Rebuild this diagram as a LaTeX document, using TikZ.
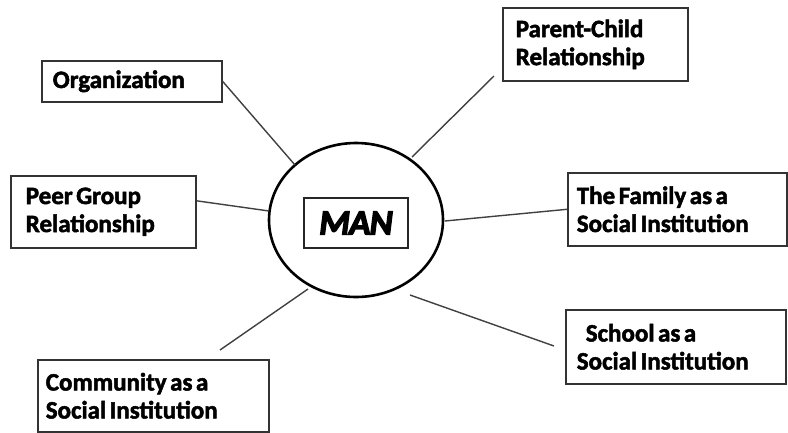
\documentclass[tikz,border=0pt]{standalone}
\usepackage{fontspec}
\setmainfont{Carlito}
\newfontfamily\heavy{Carlito Bold}[FakeBold=2]
\newfontfamily\heavyit{Carlito Bold Italic}[FakeBold=4, LetterSpace=-2]
\newcommand{\tightspaces}{\spaceskip=3.5pt\relax}
\usetikzlibrary{shapes.geometric}
\tikzset{
  lbl/.style={draw=black!80, line width=1.6pt, anchor=north west, align=left, inner ysep=0pt,
    font=\heavy\fontsize{25}{28}\selectfont, execute at begin node=\tightspaces},
  conn/.style={draw=black!75, line width=1.4pt},
}
\begin{document}
\begin{tikzpicture}[x=1pt,y=-1pt]
\useasboundingbox (0,0) rectangle (788,432);
% boxes
\node[lbl, minimum width=180pt, minimum height=41pt, inner xsep=11pt, text width=158pt] (org) at (41,60) {Organization};
\node[lbl, minimum width=185pt, minimum height=72pt, inner xsep=15pt, text width=155pt] (peer) at (10,175) {Peer Group\\Relationship};
\node[lbl, minimum width=185pt, minimum height=73pt, inner xsep=13pt, text width=159pt] (par) at (502,7) {Parent-Child\\Relationship};
\node[lbl, minimum width=219pt, minimum height=73pt, inner xsep=9pt, text width=201pt] (fam) at (567,172) {The Family as a\\Social Institution};
\node[lbl, minimum width=231pt, minimum height=72pt, inner xsep=8pt, text width=215pt] (com) at (37,359) {Community as a\\Social Institution};
\node[lbl, minimum width=220pt, minimum height=74pt, inner xsep=11pt, text width=198pt] (sch) at (565,309) {\hspace*{9pt}School as a\\Social Institution};
% centre
\node[ellipse, draw=black, line width=2.6pt, minimum width=174pt, minimum height=154pt, inner sep=0pt] (circ) at (356,220) {};
\node[draw=black!85, line width=1.8pt, minimum width=104pt, minimum height=50pt, inner sep=0pt,
  font=\heavyit\fontsize{35}{40}\selectfont] (man) at (356,223) {MAN};
% connector ends
\coordinate (c1) at (295,165);
\coordinate (c2) at (269,211);
\coordinate (c3) at (412,157);
\coordinate (p3) at (494,76);
\coordinate (c4) at (445,221);
\coordinate (c5) at (308,289);
\coordinate (p5) at (220,350);
\coordinate (c6) at (410,295);
\coordinate (p6) at (554,346);
% connectors
\draw[conn] (org.east) -- (c1);
\draw[conn] ([yshift=11pt]peer.east) -- (c2);
\draw[conn] (p3) -- (c3);
\draw[conn] (fam.west) -- (c4);
\draw[conn] (p5) -- (c5);
\draw[conn] (p6) -- (c6);
\end{tikzpicture}
\end{document}
